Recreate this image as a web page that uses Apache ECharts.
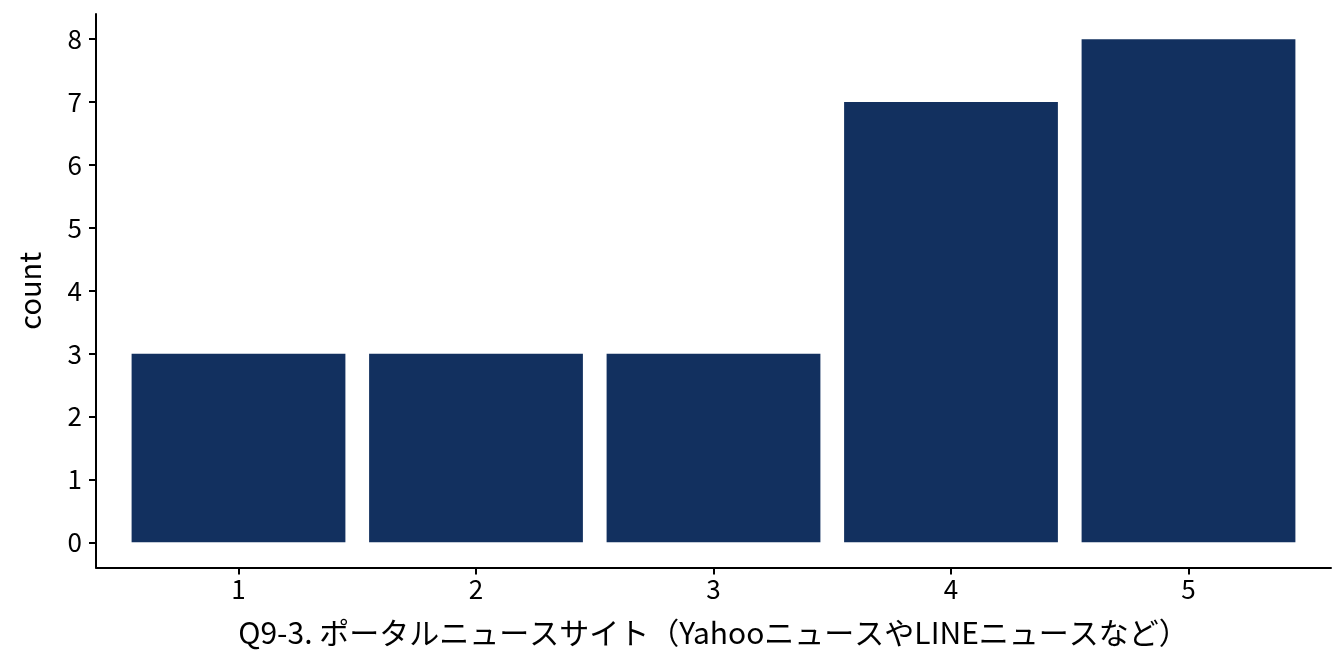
<!DOCTYPE html>
<html>
<head>
<meta charset="utf-8">
<script src="https://cdn.jsdelivr.net/npm/echarts@6/dist/echarts.min.js"></script>
<style>
html,body{margin:0;padding:0;background:#fff;}
#chart{width:1344px;height:672px;}
</style>
</head>
<body>
<div id="chart"></div>
<script>
const categories = [1, 2, 3, 4, 5];
const counts = [3, 3, 3, 7, 8];
const yTicks = [0, 1, 2, 3, 4, 5, 6, 7, 8];
const xTitle = 'Q9-3. ポータルニュースサイト（YahooニュースやLINEニュースなど）';
const yTitle = 'count';

const font = '"Noto Sans CJK JP", "Noto Sans", sans-serif';
const chart = echarts.init(document.getElementById('chart'), null, {renderer: 'canvas'});
chart.setOption({
  animation: false,
  backgroundColor: '#ffffff',
  grid: {left: 96, right: 13, top: 14, bottom: 104.5, containLabel: false},
  xAxis: {
    type: 'value', min: 0.4, max: 5.6,
    name: xTitle, nameLocation: 'middle', nameGap: 50,
    nameTextStyle: {fontFamily: font, fontSize: 30, color: '#000'},
    axisLine: {onZero: false, lineStyle: {color: '#000', width: 2}},
    axisTick: {show: true, length: 7, lineStyle: {color: '#000', width: 2}, customValues: categories},
    axisLabel: {customValues: categories, margin: 9, fontFamily: font, fontSize: 26, color: '#000'},
    splitLine: {show: false}
  },
  yAxis: {
    type: 'value', min: -0.4, max: 8.4,
    name: yTitle, nameLocation: 'middle', nameGap: 52,
    nameTextStyle: {fontFamily: font, fontSize: 29, color: '#000'},
    axisLine: {onZero: false, lineStyle: {color: '#000', width: 2}},
    axisTick: {show: true, length: 7, lineStyle: {color: '#000', width: 2}, customValues: yTicks},
    axisLabel: {customValues: yTicks, margin: 14, fontFamily: font, fontSize: 26, color: '#000'},
    splitLine: {show: false}
  },
  series: [{
    type: 'bar',
    data: categories.map((c, i) => [c, counts[i]]),
    barWidth: 213.8,
    itemStyle: {color: '#12305F'}
  }]
});
</script>
</body>
</html>
